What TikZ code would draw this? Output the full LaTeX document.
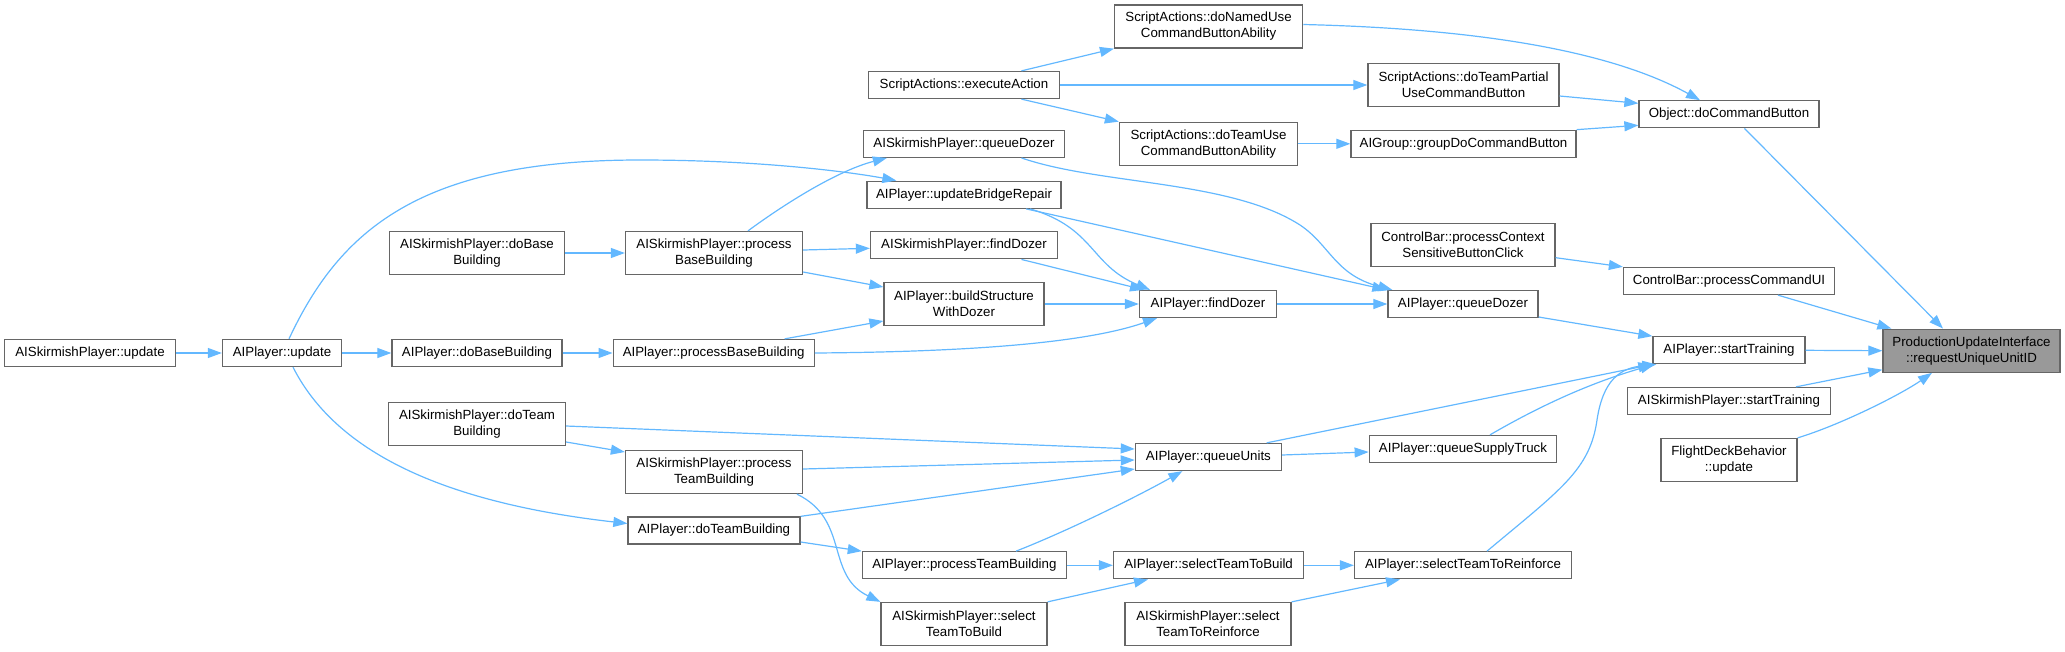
\documentclass[tikz,border=0pt]{standalone}
\usepackage{fontspec}
\setmainfont{Liberation Sans}
\usetikzlibrary{arrows.meta,calc}
\definecolor{edgeblue}{HTML}{63B8FF}
\definecolor{nodegray}{HTML}{666666}
\definecolor{targetfill}{HTML}{999999}
\begin{document}
\begin{tikzpicture}[x=1pt,y=-1pt,
  nb/.style={draw=nodegray, line width=1.3pt, fill=white, inner sep=0pt, align=center,
    font=\fontsize{13.3}{16}\selectfont},
  one/.style={minimum height=27pt},
  two/.style={minimum height=43pt},
  conn/.style={draw=edgeblue, line width=1.2pt, -{Triangle[length=14pt,width=10pt]}}]
\useasboundingbox (0,0) rectangle (2065,651);
% column 1-2
\node[nb,one,minimum width=171pt] (sku) at (90,353) {AISkirmishPlayer::update};
\node[nb,one,minimum width=119pt] (apu) at (282,353) {AIPlayer::update};
% column 3
\node[nb,two,minimum width=175pt] (skdbb) at (477,253) {AISkirmishPlayer::doBase\\Building};
\node[nb,one,minimum width=170pt] (adbb) at (477,353) {AIPlayer::doBaseBuilding};
\node[nb,two,minimum width=177pt] (skdtb) at (477,424) {AISkirmishPlayer::doTeam\\Building};
% column 4
\node[nb,two,minimum width=177pt] (skpbb) at (714,253) {AISkirmishPlayer::process\\BaseBuilding};
\node[nb,one,minimum width=201pt] (apbb) at (713.7,353) {AIPlayer::processBaseBuilding};
\node[nb,two,minimum width=177pt] (skptb) at (714,472) {AISkirmishPlayer::process\\TeamBuilding};
\node[nb,one,minimum width=172pt] (adtb) at (714,530.5) {AIPlayer::doTeamBuilding};
% column 5
\node[nb,one,minimum width=191pt] (seA) at (964,85) {ScriptActions::executeAction};
\node[nb,one,minimum width=201pt] (skqd) at (964,143.8) {AISkirmishPlayer::queueDozer};
\node[nb,one,minimum width=194pt] (ubr) at (964,194.7) {AIPlayer::updateBridgeRepair};
\node[nb,one,minimum width=187pt] (skfd) at (964,245.3) {AISkirmishPlayer::findDozer};
\node[nb,two,minimum width=160pt] (bswd) at (964,304) {AIPlayer::buildStructure\\WithDozer};
\node[nb,one,minimum width=204pt] (aptb) at (964.4,565.3) {AIPlayer::processTeamBuilding};
\node[nb,two,minimum width=166pt] (skstb) at (964,624) {AISkirmishPlayer::select\\TeamToBuild};
% column 6
\node[nb,two,minimum width=188pt] (dnu) at (1208.6,26.5) {ScriptActions::doNamedUse\\CommandButtonAbility};
\node[nb,two,minimum width=178pt] (dtu) at (1208.5,143.8) {ScriptActions::doTeamUse\\CommandButtonAbility};
\node[nb,one,minimum width=137pt] (afd) at (1208,304) {AIPlayer::findDozer};
\node[nb,one,minimum width=146pt] (aqu) at (1208.4,457) {AIPlayer::queueUnits};
\node[nb,one,minimum width=190pt] (astb) at (1208.6,565.3) {AIPlayer::selectTeamToBuild};
\node[nb,two,minimum width=166pt] (skstr) at (1208,624) {AISkirmishPlayer::select\\TeamToReinforce};
% column 7
\node[nb,two,minimum width=191pt] (dtp) at (1463.5,85) {ScriptActions::doTeamPartial\\UseCommandButton};
\node[nb,one,minimum width=225pt] (agdc) at (1463.5,143.8) {AIGroup::groupDoCommandButton};
\node[nb,two,minimum width=184pt] (cbpc) at (1463,245) {ControlBar::processContext\\SensitiveButtonClick};
\node[nb,one,minimum width=150pt] (aqd) at (1463,304) {AIPlayer::queueDozer};
\node[nb,one,minimum width=187.5pt] (aqst) at (1463,449) {AIPlayer::queueSupplyTruck};
\node[nb,one,minimum width=217pt] (astr) at (1463,565.3) {AIPlayer::selectTeamToReinforce};
% column 8
\node[nb,one,minimum width=180pt] (ocb) at (1729,114.3) {Object::doCommandButton};
\node[nb,one,minimum width=211pt] (cbpcu) at (1729,281) {ControlBar::processCommandUI};
\node[nb,one,minimum width=152pt] (ast) at (1729,350.3) {AIPlayer::startTraining};
\node[nb,one,minimum width=203pt] (skst) at (1729,401) {AISkirmishPlayer::startTraining};
\node[nb,two,minimum width=136pt] (fdb) at (1729,460) {FlightDeckBehavior\\::update};
% target
\node[nb,two,minimum width=177pt,fill=targetfill] (pui) at (1971.5,350.7) {ProductionUpdateInterface\\::requestUniqueUnitID};

% edges
\draw[conn] (sku.east) -- (apu.west);
\draw[conn] (apu.east) -- (adbb.west);
\draw[conn] ($(apu.north)+(7,0)$) .. controls (340,230) and (420,160) .. (640,160) .. controls (760,160) and (850,172) .. ($(ubr.north west)+(30,0)$);
\draw[conn] ($(apu.south)+(11,0)$) .. controls (330,440) and (420,500) .. ($(adtb.west)+(0,-7)$);
\draw[conn] (skdbb.east) -- (skpbb.west);
\draw[conn] (adbb.east) -- (apbb.west);
\draw[conn] ($(skpbb.north)+(34,0)$) .. controls (790,200) and (840,170) .. ($(skqd.south west)+(24,0)$);
\draw[conn] ($(skpbb.east)+(0,-3)$) -- ($(skfd.west)+(0,3)$);
\draw[conn] ($(skpbb.east)+(0,19)$) -- ($(bswd.west)+(0,-17)$);
\draw[conn] ($(apbb.north)+(71,0)$) -- ($(bswd.west)+(0,17)$);
\draw[conn] (apbb.east) .. controls (950,352) and (1080,345) .. ($(afd.south)+(-51,0)$);
\draw[conn] ($(skqd.south)+(57.5,0)$) .. controls (1100,185) and (1230,180) .. (1300,225) .. controls (1330,245) and (1335,275) .. ($(aqd.north west)+(5,0)$);
\draw[conn] ($(ubr.south)+(66,0)$) .. controls (1095,228) and (1090,265) .. ($(afd.north)+(-58,0)$);
\draw[conn] ($(ubr.south)+(62,0)$) -- ($(aqd.north west)+(-1,0)$);
\draw[conn] ($(skfd.south)+(57.5,0)$) -- ($(afd.north)+(-64,0)$);
\draw[conn] (bswd.east) -- (afd.west);
\draw[conn] (afd.east) -- (aqd.west);
\draw[conn] ($(aqd.east)+(0,13)$) -- (ast.north west);
\draw[conn] ($(seA.north)+(57.5,0)$) -- (dnu.south west);
\draw[conn] (seA.east) -- (dtp.west);
\draw[conn] ($(seA.south)+(57.5,0)$) -- (dtu.north west);
\draw[conn] ($(dnu.east)+(0,-2)$) .. controls (1450,28) and (1600,45) .. ($(ocb.north)+(-29,0)$);
\draw[conn] ($(dtp.east)+(0,11)$) -- ($(ocb.west)+(0,-11)$);
\draw[conn] (dtu.east) -- (agdc.west);
\draw[conn] (agdc.north east) -- ($(ocb.west)+(0,11)$);
\draw[conn] ($(ocb.south)+(15.5,0)$) -- ($(pui.north)+(-28.5,0)$);
\draw[conn] ($(cbpc.east)+(0,12.7)$) -- (cbpcu.north west);
\draw[conn] ($(cbpcu.south)+(49,0)$) -- ($(pui.north west)+(9,0)$);
\draw[conn] (ast.east) -- (pui.west);
\draw[conn] ($(skst.north)+(67,0)$) -- ($(pui.west)+(0,19)$);
\draw[conn] (fdb.north east) .. controls (1840,425) and (1900,395) .. ($(pui.south)+(-39.5,0)$);
\draw[conn] ($(skdtb.east)+(0,2)$) -- ($(aqu.west)+(0,-8)$);
\draw[conn] ($(skdtb.east)+(0,18)$) -- ($(skptb.west)+(0,-20)$);
\draw[conn] ($(skptb.east)+(0,-3)$) -- ($(aqu.west)+(0,3)$);
\draw[conn] ($(skptb.south)+(83,0)$) .. controls (850,520) and (825,575) .. (skstb.north west);
\draw[conn] (adtb.north east) -- ($(aqu.west)+(0,12)$);
\draw[conn] ($(adtb.east)+(0,11.5)$) -- (aptb.north west);
\draw[conn] ($(aptb.north)+(51.6,0)$) .. controls (1070,530) and (1140,495) .. ($(aqu.south)+(-26,0)$);
\draw[conn] (aptb.east) -- (astb.west);
\draw[conn] (skstb.north east) -- ($(astb.south)+(-60.6,0)$);
\draw[conn] (astb.east) -- (astr.west);
\draw[conn] (skstr.north east) -- ($(astr.south)+(-63,0)$);
\draw[conn] ($(astr.north)+(24,0)$) .. controls (1560,490) and (1590,470) .. (1597,420) .. controls (1603,380) and (1620,368) .. ($(ast.south west)+(4,0)$);
\draw[conn] ($(aqu.north)+(58.3,0)$) -- (ast.south west);
\draw[conn] ($(aqu.east)+(0,-2)$) -- ($(aqst.west)+(0,3)$);
\draw[conn] ($(aqst.north)+(27,0)$) .. controls (1550,400) and (1600,380) .. ($(ast.south west)+(2,0)$);
\end{tikzpicture}
\end{document}
